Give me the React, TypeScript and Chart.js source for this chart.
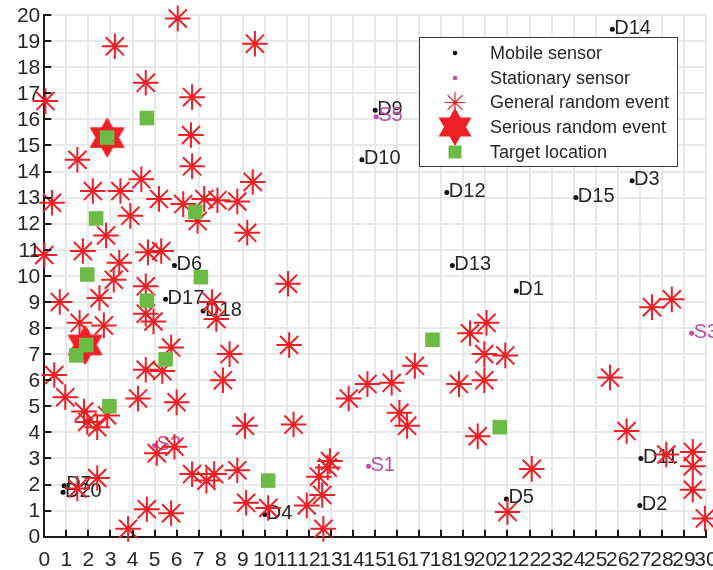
import React, { useEffect, useRef } from 'react';
import { Chart, registerables } from 'chart.js';

Chart.register(...registerables);

// ---------- data ----------
const xTickValues = [0, 1, 2, 3, 4, 5, 6, 7, 8, 9, 10, 11, 12, 13, 14, 15, 16, 17, 18, 19, 20, 21, 22, 23, 24, 25, 26, 27, 28, 29, 30];
const yTickValues = [0, 1, 2, 3, 4, 5, 6, 7, 8, 9, 10, 11, 12, 13, 14, 15, 16, 17, 18, 19, 20];

const mobileLabels = ['D1', 'D2', 'D3', 'D4', 'D5', 'D6', 'D7', 'D9', 'D10', 'D11', 'D12', 'D13', 'D14', 'D15', 'D17', 'D18', 'D20'];
const mobileX = [21.4, 27.0, 26.65, 10.0, 20.95, 5.9, 0.9, 15.0, 14.4, 27.05, 18.25, 18.5, 25.75, 24.1, 5.5, 7.2, 0.85];
const mobileY = [9.42, 1.2, 13.65, 0.85, 1.45, 10.4, 1.95, 16.35, 14.45, 3.0, 13.2, 10.4, 19.45, 13.0, 9.1, 8.65, 1.7];

const stationaryLabels = ['S1', 'S2', 'S3', 'S5'];
const stationaryX = [14.7, 5.0, 29.35, 15.05];
const stationaryY = [2.7, 3.5, 7.8, 16.1];

const generalX = [
  6.05, 3.2, 9.55, 4.6, 0.05, 6.7, 6.65, 1.5, 6.7, 4.4, 9.45, 2.2, 3.45, 0.35, 5.2, 6.3, 7.25, 7.85, 8.75, 6.95,
  3.9, 2.8, 9.2, 0.0, 1.75, 3.4, 4.7, 5.3, 11.05, 3.15, 4.6,
  0.7, 2.5, 1.6, 2.7, 4.6, 4.95, 7.6, 7.8, 5.75, 8.4, 11.1, 0.45, 4.6, 5.35, 8.1, 0.95, 4.25, 6.0, 1.8, 1.95,
  2.4, 2.85, 9.1, 11.3, 5.1, 5.9, 6.7, 7.35, 7.7, 8.75, 2.4, 1.5, 4.65, 5.75, 3.8, 9.15, 10.15, 11.9, 12.6, 12.45,
  12.85, 12.95, 12.65, 13.8,
  14.65, 15.75, 16.8, 16.1, 16.45, 18.8, 19.3, 20.05, 19.95, 20.9, 19.95, 19.65, 22.1, 21.0, 25.65, 26.4, 27.55,
  28.45, 28.2, 29.4, 29.4, 29.4, 29.95,
];
const generalY = [
  19.87, 18.8, 18.9, 17.4, 16.7, 16.85, 15.4, 14.45, 14.2, 13.7, 13.6, 13.25, 13.25, 12.8, 12.95, 12.75, 12.95, 12.9, 12.85, 12.1,
  12.3, 11.55, 11.65, 10.8, 10.95, 10.5, 10.9, 10.95, 9.7, 9.85, 9.6,
  9.0, 9.15, 8.2, 8.1, 8.55, 8.25, 9.0, 8.35, 7.25, 7.0, 7.35, 6.2, 6.4, 6.35, 6.0, 5.35, 5.3, 5.15, 4.8, 4.4,
  4.2, 4.65, 4.25, 4.3, 3.2, 3.45, 2.4, 2.15, 2.4, 2.55, 2.25, 1.85, 1.05, 0.9, 0.3, 1.3, 1.1, 1.2, 1.6, 2.3,
  2.65, 2.9, 0.3, 5.3,
  5.85, 5.9, 6.55, 4.75, 4.25, 5.85, 7.8, 8.2, 7.0, 6.95, 6.0, 3.85, 2.6, 0.95, 6.1, 4.05, 8.8,
  9.1, 3.15, 3.25, 2.7, 1.8, 0.7,
];

const seriousX = [2.85, 1.85];
const seriousY = [15.3, 7.35];

const targetX = [4.65, 2.85, 2.35, 6.85, 1.95, 7.1, 4.65, 1.45, 1.9, 5.5, 2.95, 10.15, 17.6, 20.65];
const targetY = [16.05, 15.3, 12.2, 12.45, 10.05, 9.95, 9.05, 6.95, 7.35, 6.8, 5.0, 2.15, 7.55, 4.2];

const legendLabels = ['Mobile sensor', 'Stationary sensor', 'General random event', 'Serious random event', 'Target location'];

// ---------- styles ----------
const RED = '#ee1f25';
const GREEN = '#6cbb45';
const MAGENTA = '#bf4ca6';
const BLACK = '#111111';
const TEXT = '#262626';
const GRID = '#e8e8e8';
const FONT = '"Liberation Sans", Arial, Helvetica, sans-serif';

const zip = (xs: number[], ys: number[]) => xs.map((x, i) => ({ x, y: ys[i] }));

function hexagramPath(ctx: CanvasRenderingContext2D, cx: number, cy: number, R: number) {
  const r = R / Math.sqrt(3);
  ctx.beginPath();
  for (let i = 0; i < 12; i++) {
    const ang = -Math.PI / 2 + (i * Math.PI) / 6;
    const rad = i % 2 === 0 ? R : r;
    const px = cx + rad * Math.cos(ang);
    const py = cy + rad * Math.sin(ang);
    if (i === 0) ctx.moveTo(px, py);
    else ctx.lineTo(px, py);
  }
  ctx.closePath();
}

function makeHexagram(R: number): HTMLCanvasElement {
  const c = document.createElement('canvas');
  const s = Math.ceil(2 * R + 4);
  c.width = s;
  c.height = s;
  const ctx = c.getContext('2d')!;
  hexagramPath(ctx, s / 2, s / 2, R);
  ctx.fillStyle = RED;
  ctx.fill();
  ctx.strokeStyle = RED;
  ctx.lineWidth = 1;
  ctx.stroke();
  return c;
}

function drawStar(ctx: CanvasRenderingContext2D, x: number, y: number, r: number) {
  ctx.beginPath();
  for (let i = 0; i < 4; i++) {
    const a = (i * Math.PI) / 4;
    ctx.moveTo(x - r * Math.cos(a), y - r * Math.sin(a));
    ctx.lineTo(x + r * Math.cos(a), y + r * Math.sin(a));
  }
  ctx.stroke();
}

const labelPlugin = {
  id: 'pointLabels',
  beforeDatasetsDraw(chart: any) {
    const { ctx, scales } = chart;
    ctx.save();
    ctx.font = `20px ${FONT}`;
    ctx.textAlign = 'left';
    ctx.textBaseline = 'middle';
    ctx.fillStyle = TEXT;
    mobileLabels.forEach((t, i) => {
      ctx.fillText(t, scales.x.getPixelForValue(mobileX[i]) + 2, scales.y.getPixelForValue(mobileY[i]) - 1);
    });
    ctx.fillStyle = MAGENTA;
    stationaryLabels.forEach((t, i) => {
      ctx.fillText(t, scales.x.getPixelForValue(stationaryX[i]) + 2, scales.y.getPixelForValue(stationaryY[i]) - 1);
    });
    ctx.restore();
  },
};

const axisPlugin = {
  id: 'innerTicksAndLabels',
  afterDatasetsDraw(chart: any) {
    const { ctx, scales, chartArea } = chart;
    ctx.save();
    ctx.strokeStyle = '#1a1a1a';
    ctx.lineWidth = 2;
    ctx.beginPath();
    xTickValues.forEach((v) => {
      const px = Math.round(scales.x.getPixelForValue(v));
      ctx.moveTo(px, chartArea.bottom);
      ctx.lineTo(px, chartArea.bottom - 7);
    });
    yTickValues.forEach((v) => {
      const py = Math.round(scales.y.getPixelForValue(v));
      ctx.moveTo(chartArea.left, py);
      ctx.lineTo(chartArea.left + 7, py);
    });
    ctx.stroke();

    ctx.fillStyle = TEXT;
    ctx.font = `21px ${FONT}`;
    ctx.textBaseline = 'middle';
    ctx.textAlign = 'center';
    xTickValues.forEach((v) => {
      ctx.fillText(String(v), scales.x.getPixelForValue(v), chartArea.bottom + 24);
    });
    ctx.textAlign = 'right';
    yTickValues.forEach((v) => {
      ctx.fillText(String(v), chartArea.left - 4, scales.y.getPixelForValue(v) + 1);
    });
    ctx.restore();
  },
};

const legendPlugin = {
  id: 'boxLegend',
  afterDraw(chart: any) {
    const { ctx } = chart;
    const left = 419.5;
    const top = 37.5;
    const w = 258;
    const h = 129;
    ctx.save();
    ctx.fillStyle = '#ffffff';
    ctx.fillRect(left, top, w, h);
    ctx.strokeStyle = '#3c3c3c';
    ctx.lineWidth = 1;
    ctx.strokeRect(left, top, w, h);
    const symX = 455;
    const textX = 490;
    const rowY = [53, 78, 102.5, 127, 152];
    ctx.fillStyle = BLACK;
    ctx.beginPath();
    ctx.arc(symX, rowY[0], 2.3, 0, Math.PI * 2);
    ctx.fill();
    ctx.fillStyle = MAGENTA;
    ctx.beginPath();
    ctx.arc(symX, rowY[1], 2.3, 0, Math.PI * 2);
    ctx.fill();
    ctx.strokeStyle = RED;
    ctx.lineWidth = 1.2;
    drawStar(ctx, symX, rowY[2], 10.5);
    ctx.fillStyle = RED;
    ctx.beginPath();
    ctx.arc(symX, rowY[2], 2, 0, Math.PI * 2);
    ctx.fill();
    hexagramPath(ctx, symX, rowY[3], 19);
    ctx.fillStyle = RED;
    ctx.fill();
    ctx.fillStyle = GREEN;
    ctx.fillRect(symX - 6.5, rowY[4] - 6.5, 13, 13);
    ctx.fillStyle = TEXT;
    ctx.font = `18px ${FONT}`;
    ctx.textAlign = 'left';
    ctx.textBaseline = 'middle';
    legendLabels.forEach((t, i) => ctx.fillText(t, textX, rowY[i] + 1));
    ctx.restore();
  },
};

export default function App() {
  const ref = useRef<HTMLCanvasElement | null>(null);

  useEffect(() => {
    if (!ref.current) return;
    const hex = makeHexagram(19.5);
    const chart = new Chart(ref.current, {
      type: 'scatter',
      data: {
        datasets: [
          {
            label: 'Target location',
            data: zip(targetX, targetY),
            pointStyle: 'rect',
            pointRadius: 10.3,
            pointBackgroundColor: GREEN,
            pointBorderColor: GREEN,
            pointBorderWidth: 0,
            clip: false,
            order: 0,
          },
          {
            label: 'Serious random event',
            data: zip(seriousX, seriousY),
            pointStyle: hex as any,
            pointRadius: 20,
            clip: false,
            order: 1,
          },
          {
            label: 'General random event',
            data: zip(generalX, generalY),
            pointStyle: 'star',
            pointRadius: 12.8,
            pointBorderColor: RED,
            pointBackgroundColor: RED,
            pointBorderWidth: 2,
            clip: false,
            order: 2,
          },
          {
            label: 'Stationary sensor',
            data: zip(stationaryX, stationaryY),
            pointStyle: 'circle',
            pointRadius: 2.5,
            pointBackgroundColor: MAGENTA,
            pointBorderColor: MAGENTA,
            pointBorderWidth: 0,
            clip: false,
            order: 3,
          },
          {
            label: 'Mobile sensor',
            data: zip(mobileX, mobileY),
            pointStyle: 'circle',
            pointRadius: 2.5,
            pointBackgroundColor: BLACK,
            pointBorderColor: BLACK,
            pointBorderWidth: 0,
            clip: false,
            order: 4,
          },
        ],
      },
      options: {
        responsive: false,
        animation: false,
        events: [],
        layout: { autoPadding: false, padding: { left: 0, right: 7, top: 15, bottom: 0 } },
        plugins: {
          legend: { display: false },
          tooltip: { enabled: false },
        },
        scales: {
          x: {
            type: 'linear',
            min: 0,
            max: 30,
            afterBuildTicks: (scale: any) => {
              scale.ticks = xTickValues.map((v) => ({ value: v }));
            },
            afterFit: (scale: any) => {
              scale.height = 33.3;
              scale.paddingLeft = 0;
              scale.paddingRight = 0;
            },
            ticks: { display: false },
            grid: { color: GRID, lineWidth: 2, drawTicks: false },
            border: { display: true, color: '#1a1a1a', width: 2 },
          },
          y: {
            type: 'linear',
            min: 0,
            max: 20,
            afterBuildTicks: (scale: any) => {
              scale.ticks = yTickValues.map((v) => ({ value: v }));
            },
            afterFit: (scale: any) => {
              scale.width = 44.3;
              scale.paddingTop = 0;
              scale.paddingBottom = 0;
            },
            ticks: { display: false },
            grid: { color: GRID, lineWidth: 2, drawTicks: false },
            border: { display: true, color: '#1a1a1a', width: 2 },
          },
        },
      },
      plugins: [labelPlugin, axisPlugin, legendPlugin],
    });
    return () => chart.destroy();
  }, []);

  return (
    <div style={{ position: 'absolute', left: 0, top: 0, width: 713, height: 570, background: '#fff' }}>
      <canvas ref={ref} width={713} height={570} style={{ width: 713, height: 570, display: 'block' }} />
    </div>
  );
}
